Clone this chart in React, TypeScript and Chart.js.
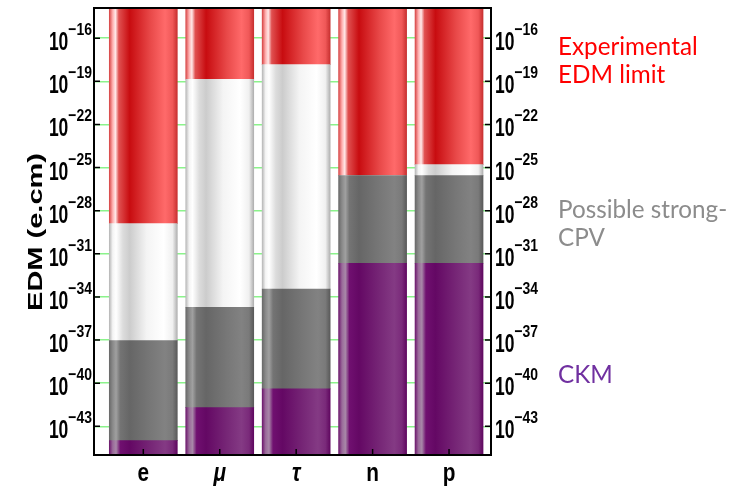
import React, { useEffect, useRef } from "react";
import { Chart, registerables } from "chart.js";

Chart.register(...registerables);

// ---- data ----
const categories = ["e", "μ", "τ", "n", "p"];
const italicCategory = [false, true, true, false, false];
const axisMin = 1e-45;
const axisMax = 1.26e-14;
const barTop = 1e-14;
// upper edge of the CKM band
const ckmLimit = [1e-44, 2e-42, 4e-41, 2.2e-32, 2.2e-32];
// upper edge of the possible strong-CPV band
const strongCpvLimit = [9e-38, 1.9e-35, 3.5e-34, 2.75e-26, 2.75e-26];
// experimental EDM limit (lower edge of the red band)
const experimentalLimit = [1.25e-29, 1.4e-19, 1.45e-18, 2.75e-26, 1.6e-25];
const tickExponents = [-16, -19, -22, -25, -28, -31, -34, -37, -40, -43];

const legendLines = [
  { text: "Experimental", color: "#ff0000", y: 55 },
  { text: "EDM limit", color: "#ff0000", y: 83 },
  { text: "Possible strong-", color: "#8c8c8c", y: 218 },
  { text: "CPV", color: "#8c8c8c", y: 246 },
  { text: "CKM", color: "#7030a0", y: 383 },
];

const BAR_W = 68;

type Stops = [number, string][];
const redStops: Stops = [
  [0, "#d84848"], [0.05, "#ffb0b0"], [0.09, "#ffe8e8"], [0.14, "#e05050"],
  [0.3, "#c80c10"], [0.6, "#e84848"], [0.82, "#ff6a6a"], [0.93, "#f05858"], [1, "#c83030"],
];
const whiteStops: Stops = [
  [0, "#b8b8b8"], [0.05, "#f4f4f4"], [0.1, "#ffffff"], [0.2, "#dcdcdc"],
  [0.3, "#cccccc"], [0.55, "#f4f4f4"], [0.8, "#ffffff"], [0.93, "#f0f0f0"], [1, "#b0b0b0"],
];
const grayStops: Stops = [
  [0, "#6a6a6a"], [0.05, "#8a8a8a"], [0.1, "#a0a0a0"], [0.16, "#747474"],
  [0.3, "#666666"], [0.6, "#777777"], [0.82, "#828282"], [0.93, "#7a7a7a"], [1, "#5a5a5a"],
];
const purpleStops: Stops = [
  [0, "#6e1a6e"], [0.05, "#9a6a9a"], [0.1, "#a888a8"], [0.16, "#701070"],
  [0.3, "#640864"], [0.6, "#762676"], [0.82, "#843a84"], [0.93, "#7a2a7a"], [1, "#600860"],
];

function gradientFor(stops: Stops, fallback: string) {
  return (c: any) => {
    const chart = c.chart;
    const xs = chart.scales && chart.scales.x;
    if (!xs || c.dataIndex == null || !chart.chartArea) return fallback;
    const cx = xs.getPixelForValue(c.dataIndex);
    const g = chart.ctx.createLinearGradient(cx - BAR_W / 2, 0, cx + BAR_W / 2, 0);
    stops.forEach(([o, col]) => g.addColorStop(o, col));
    return g;
  };
}

function drawScaled(
  ctx: CanvasRenderingContext2D, text: string, x: number, y: number,
  font: string, sx: number, align: CanvasTextAlign, color: string
) {
  ctx.save();
  ctx.translate(x, y);
  ctx.scale(sx, 1);
  ctx.font = font;
  ctx.fillStyle = color;
  ctx.textAlign = align;
  ctx.textBaseline = "alphabetic";
  ctx.fillText(text, 0, 0);
  ctx.restore();
}

function measureScaled(ctx: CanvasRenderingContext2D, text: string, font: string, sx: number) {
  ctx.save();
  ctx.font = font;
  const w = ctx.measureText(text).width * sx;
  ctx.restore();
  return w;
}

const decorPlugin = {
  id: "decor",
  afterDatasetsDraw(chart: any) {
    const ctx: CanvasRenderingContext2D = chart.ctx;
    const { left, right, top, bottom } = chart.chartArea;
    const ys = chart.scales.y;
    const xs = chart.scales.x;
    ctx.save();
    // frame
    ctx.strokeStyle = "#000";
    ctx.lineWidth = 2;
    ctx.strokeRect(left, top, right - left, bottom - top);
    // inward tick marks
    ctx.lineWidth = 1.5;
    tickExponents.forEach((e) => {
      const y = ys.getPixelForValue(Math.pow(10, e));
      ctx.beginPath();
      ctx.moveTo(left, y);
      ctx.lineTo(left + 6, y);
      ctx.moveTo(right, y);
      ctx.lineTo(right - 6, y);
      ctx.stroke();
    });
    categories.forEach((_, i) => {
      const x = xs.getPixelForValue(i);
      ctx.beginPath();
      ctx.moveTo(x, bottom);
      ctx.lineTo(x, bottom - 6);
      ctx.stroke();
    });
    ctx.restore();

    // y tick labels (left and right)
    const baseFont = "bold 25px 'Liberation Sans', Arial, sans-serif";
    const expFont = "bold 17px 'Liberation Sans', Arial, sans-serif";
    tickExponents.forEach((e) => {
      const y = ys.getPixelForValue(Math.pow(10, e));
      const expText = "\u2212" + String(-e);
      const we = measureScaled(ctx, expText, expFont, 0.82);
      // left
      drawScaled(ctx, expText, left - 2, y - 3, expFont, 0.82, "right", "#000");
      drawScaled(ctx, "10", left - 2 - we, y + 12, baseFont, 0.7, "right", "#000");
      // right
      const wb = measureScaled(ctx, "10", baseFont, 0.7);
      drawScaled(ctx, "10", right + 4, y + 12, baseFont, 0.7, "left", "#000");
      drawScaled(ctx, expText, right + 4 + wb, y - 3, expFont, 0.82, "left", "#000");
    });

    // category labels
    categories.forEach((c, i) => {
      const x = xs.getPixelForValue(i);
      const font = (italicCategory[i] ? "italic " : "") + "bold 26px 'Liberation Sans', Arial, sans-serif";
      drawScaled(ctx, c, x, bottom + 26, font, 0.8, "center", "#000");
    });

    // y axis title
    ctx.save();
    ctx.translate(42, 232);
    ctx.rotate(-Math.PI / 2);
    ctx.scale(1.45, 1);
    ctx.font = "bold 20px 'Liberation Sans', Arial, sans-serif";
    ctx.fillStyle = "#000";
    ctx.textAlign = "center";
    ctx.fillText("EDM (e.cm)", 0, 0);
    ctx.restore();

    // side legend text
    legendLines.forEach((l) => {
      drawScaled(ctx, l.text, 558, l.y, "25px Lato, 'Open Sans', sans-serif", 0.97, "left", l.color);
    });
  },
};

export default function App() {
  const ref = useRef<HTMLCanvasElement | null>(null);
  useEffect(() => {
    document.body.style.margin = "0";
    if (!ref.current) return;
    const n = categories.length;
    const idx = categories.map((_, i) => i);
    const mk = (label: string, lo: number[], hi: number[], stops: Stops, fb: string) => ({
      label,
      data: idx.map((i) => ({ x: i, y: [lo[i], hi[i]] })),
      backgroundColor: gradientFor(stops, fb),
      borderWidth: 0,
      borderSkipped: false,
      barThickness: BAR_W,
      grouped: false,
    });
    const bottomArr = idx.map(() => axisMin);
    const topArr = idx.map(() => barTop);
    const chart = new Chart(ref.current, {
      type: "bar",
      data: {
        datasets: [
          mk("CKM", bottomArr, ckmLimit, purpleStops, "#6a106a"),
          mk("Possible strong-CPV", ckmLimit, strongCpvLimit, grayStops, "#707070"),
          mk("Allowed", strongCpvLimit, experimentalLimit, whiteStops, "#eeeeee"),
          mk("Experimental EDM limit", experimentalLimit, topArr, redStops, "#e03030"),
        ] as any,
      },
      options: {
        animation: false,
        responsive: false,
        maintainAspectRatio: false,
        layout: { padding: { left: 94, right: 262, top: 8, bottom: 32 } },
        plugins: { legend: { display: false }, tooltip: { enabled: false } },
        scales: {
          x: {
            type: "linear",
            offset: false,
            min: -0.645,
            max: n - 1 + 0.549,
            ticks: { display: false },
            grid: { display: false, drawTicks: false, offset: false },
            border: { display: false },
          },
          y: {
            type: "logarithmic",
            min: axisMin,
            max: axisMax,
            afterBuildTicks: (s: any) => {
              s.ticks = tickExponents.map((e) => ({ value: Math.pow(10, e) }));
            },
            ticks: { display: false },
            grid: { color: "rgba(110,240,110,0.8)", lineWidth: 1.5, drawTicks: false },
            border: { display: false },
          },
        },
      } as any,
      plugins: [decorPlugin],
    });
    return () => chart.destroy();
  }, []);
  return (
    <div style={{ width: 753, height: 487, background: "#fff" }}>
      <canvas ref={ref} width={753} height={487} style={{ display: "block" }} />
    </div>
  );
}
